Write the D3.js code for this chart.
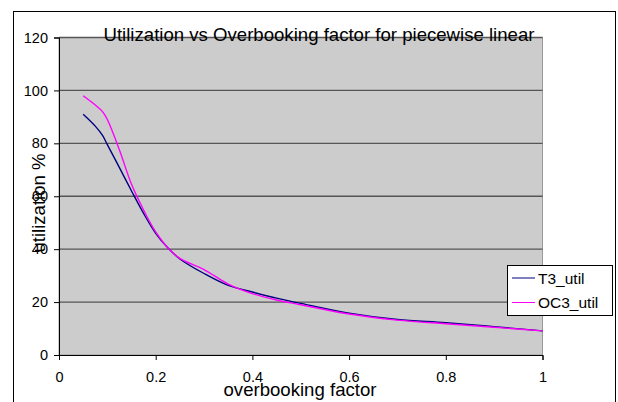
<!DOCTYPE html>
<html><head><meta charset="utf-8">
<script src="https://cdn.jsdelivr.net/npm/d3@7"></script>
<style>body{margin:0;background:#fff}svg{display:block}text{font-family:"Liberation Sans",Arial,sans-serif;fill:#000}</style>
</head><body>
<script>
const xValues = [0.05,0.075,0.09,0.1,0.125,0.15,0.175,0.2,0.225,0.25,0.3,0.35,0.4,0.45,0.5,0.6,0.7,0.8,0.9,1.0];
const t3Util  = [91,86.5,83,79.5,70.8,62,53.5,46,40.5,36.3,30.8,26.3,23.8,21.5,19.5,15.8,13.4,12.2,10.7,9.1];
const oc3Util = [98,94.5,92,89,77.5,64.5,54.8,46.5,40.5,36.5,32.3,26.8,23.2,20.8,19,15.5,13.2,11.8,10.5,9.1];
const seriesNames = ["T3_util","OC3_util"];
const seriesColors = ["#000080","#ff00ff"];
const xTicks = [0,0.2,0.4,0.6,0.8,1];
const yTicks = [0,20,40,60,80,100,120];
const title = "Utilization vs Overbooking factor for piecewise linear";
const xLabel = "overbooking factor";
const yLabel = "utilization %";

const W=618,H=402;
const svg=d3.select("body").append("svg").attr("width",W).attr("height",H);
svg.append("rect").attr("x",13.5).attr("y",11.5).attr("width",602).attr("height",400).attr("fill","#fff").attr("stroke","#000").attr("stroke-width",1);

const x=d3.scaleLinear().domain([0,1]).range([59,542.5]);
const y=d3.scaleLinear().domain([0,120]).range([355,37.5]);

svg.append("rect").attr("x",x(0)).attr("y",y(120)).attr("width",x(1)-x(0)).attr("height",y(0)-y(120)).attr("fill","#cccccc").attr("stroke","#999").attr("stroke-width",1);

svg.append("g").selectAll("line").data(yTicks.filter(d=>d>0)).join("line")
  .attr("x1",x(0)).attr("x2",x(1)).attr("y1",d=>y(d)).attr("y2",d=>y(d))
  .attr("stroke","#555").attr("stroke-width",1.4);

const ya=svg.append("g").attr("transform",`translate(${x(0)},0)`)
  .call(d3.axisLeft(y).tickValues(yTicks).tickSize(5).tickPadding(6).tickFormat(d3.format("d")));
const xa=svg.append("g").attr("transform",`translate(0,${y(0)})`)
  .call(d3.axisBottom(x).tickValues(xTicks).tickSize(5).tickPadding(12).tickFormat(d=>d===0?"0":d===1?"1":d3.format(".1f")(d)));
[ya,xa].forEach(a=>{a.select(".domain").attr("stroke","#000");a.selectAll(".tick line").attr("stroke","#000");
  a.selectAll("text").attr("font-size",14.5).attr("font-family","Liberation Sans, Arial, sans-serif").attr("fill","#000");});

const line=d3.line().x(d=>x(d[0])).y(d=>y(d[1])).curve(d3.curveCatmullRom.alpha(0.5));
[t3Util,oc3Util].forEach((vals,i)=>{
  svg.append("path").datum(xValues.map((v,j)=>[v,vals[j]]))
    .attr("d",line).attr("fill","none").attr("stroke",seriesColors[i]).attr("stroke-width",1.4);
});

svg.append("text").attr("x",319).attr("y",41).attr("text-anchor","middle").attr("font-size",18.6).text(title);
svg.append("text").attr("x",300).attr("y",396).attr("text-anchor","middle").attr("font-size",18.6).text(xLabel);
svg.append("text").attr("transform","translate(45,203) rotate(-90)").attr("text-anchor","middle").attr("font-size",18.6).text(yLabel);

const lg=svg.append("g");
lg.append("rect").attr("x",507.5).attr("y",265.5).attr("width",105).attr("height",50).attr("fill","#fff").attr("stroke","#000");
seriesNames.forEach((n,i)=>{
  const yy=278+i*24.5;
  lg.append("line").attr("x1",512).attr("x2",535).attr("y1",yy).attr("y2",yy).attr("stroke",seriesColors[i]).attr("stroke-width",1);
  lg.append("text").attr("x",538).attr("y",yy+5.5).attr("font-size",15.5).text(n);
});
</script>
</body></html>
